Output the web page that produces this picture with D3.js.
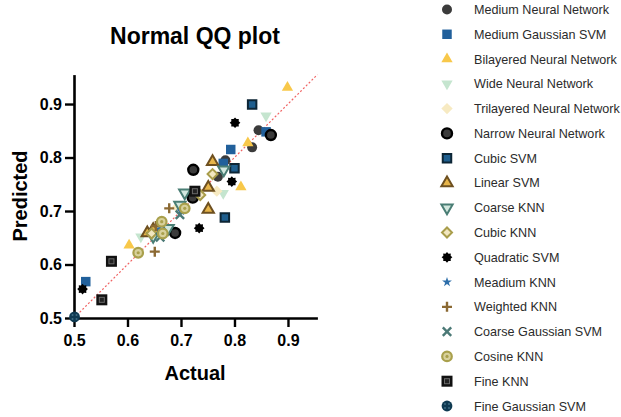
<!DOCTYPE html>
<html>
<head>
<meta charset="utf-8">
<script src="https://cdn.jsdelivr.net/npm/d3@7"></script>
<style>
  body { margin: 0; background: #fff; }
  text { font-family: "Liberation Sans", Arial, sans-serif; }
</style>
</head>
<body>
<script>
// Legend / series names
var seriesNames = [
  "Medium Neural Network", "Medium Gaussian SVM", "Bilayered Neural Network",
  "Wide Neural Network", "Trilayered Neural Network", "Narrow Neural Network",
  "Cubic SVM", "Linear SVM", "Coarse KNN", "Cubic KNN", "Quadratic SVM",
  "Meadium KNN", "Weighted KNN", "Coarse Gaussian SVM", "Cosine KNN",
  "Fine KNN", "Fine Gaussian SVM"
];

// [actual, predicted] per model
var mediumNN      = [[0.845, 0.851], [0.833, 0.819], [0.783, 0.795], [0.769, 0.764]];
var mediumGSVM    = [[0.859, 0.848], [0.793, 0.815], [0.779, 0.789], [0.522, 0.568]];
var bilayeredNN   = [[0.899, 0.931], [0.825, 0.827], [0.812, 0.745], [0.603, 0.636]];
var wideNN        = [[0.859, 0.878], [0.779, 0.733], [0.625, 0.652]];
var trilayeredNN  = [[0.767, 0.737], [0.693, 0.707], [0.655, 0.662]];
var narrowNN      = [[0.868, 0.842], [0.723, 0.777], [0.722, 0.725], [0.689, 0.659]];
var cubicSVM      = [[0.833, 0.899], [0.800, 0.780], [0.782, 0.688]];
var linearSVM     = [[0.759, 0.792], [0.751, 0.744], [0.751, 0.703], [0.648, 0.665], [0.637, 0.659]];
var coarseKNN     = [[0.780, 0.777], [0.707, 0.734], [0.698, 0.711], [0.676, 0.668], [0.648, 0.653]];
var cubicKNN      = [[0.759, 0.769], [0.736, 0.730], [0.645, 0.658]];
var quadraticSVM  = [[0.801, 0.865], [0.795, 0.755], [0.734, 0.668], [0.516, 0.554]];
var meadiumKNN    = [[0.700, 0.700], [0.660, 0.666]];
var weightedKNN   = [[0.678, 0.705], [0.653, 0.672], [0.651, 0.624]];
var coarseGSVM    = [[0.698, 0.693], [0.661, 0.651]];
var cosineKNN     = [[0.707, 0.705], [0.664, 0.680], [0.666, 0.658], [0.620, 0.622]];
var fineKNN       = [[0.726, 0.737], [0.570, 0.606], [0.552, 0.534]];
var fineGSVM      = [[0.501, 0.502]];

var xTicks = [0.5, 0.6, 0.7, 0.8, 0.9];
var yTicks = [0.5, 0.6, 0.7, 0.8, 0.9];

var allData = [mediumNN, mediumGSVM, bilayeredNN, wideNN, trilayeredNN, narrowNN,
  cubicSVM, linearSVM, coarseKNN, cubicKNN, quadraticSVM, meadiumKNN, weightedKNN,
  coarseGSVM, cosineKNN, fineKNN, fineGSVM];

// marker kind for each series
var kinds = ["dot", "sq", "tri", "tridown", "diamond", "ringdot", "sqb", "trib",
  "tridownb", "diamondb", "gear", "star", "plus", "cross", "cosine", "fineknn", "finegauss"];

// 8 pointed blob for Quadratic SVM
var gearType = {
  draw: function (ctx, size) {
    var r = Math.sqrt(size / Math.PI);
    for (var i = 0; i < 16; i++) {
      var a = i * Math.PI / 8 - Math.PI / 2;
      var rr = i % 2 ? r * 0.74 : r;
      if (i) ctx.lineTo(rr * Math.cos(a), rr * Math.sin(a));
      else ctx.moveTo(rr * Math.cos(a), rr * Math.sin(a));
    }
    ctx.closePath();
  }
};

function drawMarker(g, kind) {
  var sym = d3.symbol();
  switch (kind) {
    case "dot":
      g.append("circle").attr("r", 5).attr("fill", "#3b3b3b");
      break;
    case "sq":
      g.append("path").attr("d", sym.type(d3.symbolSquare).size(90)()).attr("fill", "#21609b");
      break;
    case "tri":
      g.append("path").attr("d", sym.type(d3.symbolTriangle).size(55)()).attr("fill", "#f8c84a");
      break;
    case "tridown":
      g.append("path").attr("d", sym.type(d3.symbolTriangle).size(55)())
        .attr("transform", "rotate(180)").attr("fill", "#c5e5cf");
      break;
    case "diamond":
      g.append("path").attr("d", sym.type(d3.symbolSquare).size(64)())
        .attr("transform", "rotate(45)").attr("fill", "#f7eac2");
      break;
    case "ringdot":
      g.append("circle").attr("r", 5).attr("fill", "#3b3b3b")
        .attr("stroke", "#000").attr("stroke-width", 2.4);
      break;
    case "sqb":
      g.append("path").attr("d", sym.type(d3.symbolSquare).size(72)())
        .attr("fill", "#1e5e8e").attr("stroke", "#0c2535").attr("stroke-width", 2);
      break;
    case "trib":
      g.append("path").attr("d", sym.type(d3.symbolTriangle).size(55)())
        .attr("fill", "#e7b54a").attr("stroke", "#6e5020").attr("stroke-width", 2);
      break;
    case "tridownb":
      g.append("path").attr("d", sym.type(d3.symbolTriangle).size(55)())
        .attr("transform", "rotate(180)")
        .attr("fill", "#d3e8df").attr("stroke", "#4a7e75").attr("stroke-width", 2);
      break;
    case "diamondb":
      g.append("path").attr("d", sym.type(d3.symbolSquare).size(50)())
        .attr("transform", "rotate(45)")
        .attr("fill", "#f2e7c0").attr("stroke", "#a99d4b").attr("stroke-width", 2);
      break;
    case "gear":
      g.append("path").attr("d", sym.type(gearType).size(90)()).attr("fill", "#000");
      break;
    case "star":
      g.append("path").attr("d", sym.type(d3.symbolStar).size(30)()).attr("fill", "#2d6eaa");
      break;
    case "plus":
      g.append("path").attr("d", "M-5,0H5M0,-5V5")
        .attr("stroke", "#8b6933").attr("stroke-width", 2.4);
      break;
    case "cross":
      g.append("path").attr("d", "M-4.2,-4.2L4.2,4.2M-4.2,4.2L4.2,-4.2")
        .attr("stroke", "#4b7976").attr("stroke-width", 2.4);
      break;
    case "cosine":
      g.append("circle").attr("r", 4.8).attr("fill", "#d8d19c")
        .attr("stroke", "#a9a04c").attr("stroke-width", 2.2);
      g.append("circle").attr("r", 1.6).attr("fill", "#a9a04c");
      break;
    case "fineknn":
      g.append("rect").attr("x", -5.5).attr("y", -5.5).attr("width", 11).attr("height", 11).attr("fill", "#111");
      g.append("rect").attr("x", -2.5).attr("y", -2.5).attr("width", 5).attr("height", 5)
        .attr("fill", "#222").attr("stroke", "#6a6a6a").attr("stroke-width", 1);
      break;
    case "finegauss":
      g.append("circle").attr("r", 5.4).attr("fill", "#0f3a52");
      [[-2, -2], [2, -2], [-2, 2], [2, 2]].forEach(function (p) {
        g.append("circle").attr("cx", p[0]).attr("cy", p[1]).attr("r", 1).attr("fill", "#3f6d84");
      });
      break;
  }
}

var svg = d3.select("body").append("svg")
  .attr("width", 621).attr("height", 417);

var x = d3.scaleLinear().domain([0.5, 0.955]).range([74, 317.4]);
var y = d3.scaleLinear().domain([0.5, 0.955]).range([318, 74.6]);

// Title
svg.append("text")
  .attr("x", 195).attr("y", 44)
  .attr("text-anchor", "middle")
  .style("font-size", "23px").style("font-weight", "bold")
  .text("Normal QQ plot");

// diagonal reference line y = x
svg.append("line")
  .attr("x1", x(0.5)).attr("y1", y(0.5))
  .attr("x2", x(0.955)).attr("y2", y(0.955))
  .attr("stroke", "#f06464").attr("stroke-width", 1.2)
  .attr("stroke-dasharray", "2,2");

// Axes
var xAxis = svg.append("g")
  .attr("transform", "translate(0," + y(0.5) + ")")
  .call(d3.axisBottom(x).tickValues(xTicks).tickFormat(d3.format(".1f"))
    .tickSize(9).tickSizeOuter(0).tickPadding(8));
var yAxis = svg.append("g")
  .attr("transform", "translate(" + x(0.5) + ",0)")
  .call(d3.axisLeft(y).tickValues(yTicks).tickFormat(d3.format(".1f"))
    .tickSize(9).tickSizeOuter(0).tickPadding(3));

[xAxis, yAxis].forEach(function (ax) {
  ax.select(".domain").attr("stroke", "#000").attr("stroke-width", 2.6);
  ax.selectAll(".tick line").attr("stroke", "#000").attr("stroke-width", 2.4);
  ax.selectAll(".tick text")
    .attr("fill", "#000")
    .style("font-family", "'Liberation Sans', Arial, sans-serif")
    .style("font-size", "16px").style("font-weight", "bold");
});

// Axis labels
svg.append("text")
  .attr("x", 195).attr("y", 380)
  .attr("text-anchor", "middle")
  .style("font-size", "20px").style("font-weight", "bold")
  .text("Actual");

svg.append("text")
  .attr("transform", "translate(27,196) rotate(-90)")
  .attr("text-anchor", "middle")
  .style("font-size", "20px").style("font-weight", "bold")
  .text("Predicted");

// Points, in legend order so later series sit on top
allData.forEach(function (pts, i) {
  svg.append("g").selectAll("g")
    .data(pts)
    .join("g")
    .attr("transform", function (d) { return "translate(" + x(d[0]) + "," + y(d[1]) + ")"; })
    .each(function () { drawMarker(d3.select(this), kinds[i]); });
});

// Legend
var legend = svg.append("g");
seriesNames.forEach(function (name, i) {
  var cy = 9.5 + i * 24.78;
  var m = legend.append("g").attr("transform", "translate(447," + cy + ")");
  drawMarker(m, kinds[i]);
  legend.append("text")
    .attr("x", 474).attr("y", cy)
    .attr("dy", "0.36em")
    .attr("fill", "#2b2b2b")
    .style("font-size", "12.6px")
    .text(name);
});
</script>
</body>
</html>
